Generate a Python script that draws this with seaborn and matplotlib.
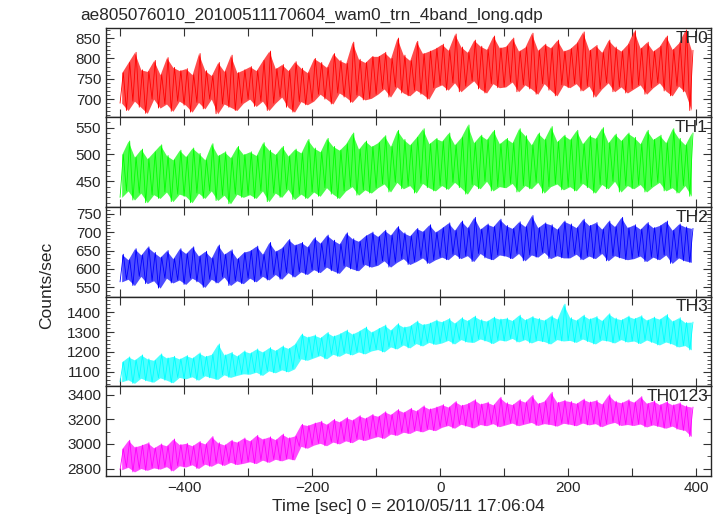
import numpy as np
import pandas as pd
import matplotlib.pyplot as plt
import seaborn as sns
from matplotlib.ticker import MultipleLocator, FuncFormatter

# 10-sec bins, low and high excursion of the light curve
bin_start = np.arange(-500, 400, 10)

th0_hi = [765, 790, 815, 772, 768, 795, 760, 802, 778, 770,
          775, 760, 812, 770, 758, 790, 768, 808, 765, 772,
          780, 770, 795, 818, 775, 785, 770, 792, 776, 765,
          800, 790, 778, 812, 795, 788, 840, 798, 790, 805,
          805, 815, 800, 850, 808, 795, 842, 812, 818, 825,
          835, 820, 860, 828, 815, 845, 830, 822, 855, 826,
          830, 850, 818, 828, 862, 820, 835, 826, 845, 818,
          824, 838, 865, 820, 832, 815, 845, 828, 818, 835,
          868, 825, 840, 818, 830, 855, 822, 838, 870, 820]
th0_lo = [690, 672, 695, 680, 665, 700, 678, 688, 670, 695,
          685, 668, 692, 676, 700, 664, 688, 680, 672, 690,
          700, 682, 695, 672, 690, 705, 680, 668, 694, 686,
          695, 712, 700, 688, 715, 705, 692, 710, 698, 702,
          712, 725, 705, 730, 715, 708, 722, 712, 700, 728,
          735, 722, 740, 718, 732, 745, 725, 715, 738, 728,
          730, 742, 718, 735, 725, 712, 738, 722, 708, 735,
          728, 738, 720, 732, 705, 725, 740, 718, 730, 715,
          725, 735, 712, 728, 740, 720, 708, 732, 718, 672]

th1_hi = [500, 525, 495, 510, 492, 505, 518, 498, 490, 508,
          496, 512, 502, 490, 520, 498, 505, 494, 515, 500,
          505, 498, 522, 508, 500, 515, 497, 510, 503, 528,
          512, 505, 530, 515, 508, 520, 540, 510, 525, 515,
          522, 535, 515, 545, 528, 518, 532, 548, 520, 530,
          525, 540, 518, 532, 555, 522, 536, 528, 545, 520,
          530, 522, 548, 535, 518, 540, 528, 552, 524, 536,
          528, 545, 520, 535, 530, 550, 522, 538, 526, 540,
          532, 520, 545, 528, 536, 522, 548, 530, 518, 540]
th1_lo = [420, 432, 415, 428, 410, 425, 418, 430, 412, 426,
          422, 410, 428, 418, 432, 414, 424, 408, 426, 420,
          425, 418, 432, 412, 428, 420, 435, 416, 426, 418,
          430, 422, 438, 426, 418, 432, 440, 424, 434, 428,
          438, 445, 430, 448, 436, 442, 428, 446, 438, 432,
          442, 435, 448, 438, 426, 444, 436, 450, 432, 440,
          438, 446, 430, 442, 436, 448, 428, 440, 445, 434,
          440, 432, 446, 438, 428, 444, 436, 450, 430, 442,
          436, 444, 430, 440, 448, 432, 438, 428, 442, 422]

th2_hi = [640, 625, 655, 638, 660, 645, 632, 650, 628, 655,
          642, 660, 635, 648, 630, 665, 640, 652, 628, 645,
          650, 662, 640, 672, 648, 658, 680, 665, 672, 660,
          685, 670, 692, 678, 668, 698, 682, 675, 690, 700,
          688, 705, 692, 715, 698, 690, 710, 702, 720, 700,
          712, 725, 705, 730, 712, 740, 708, 722, 715, 735,
          718, 710, 728, 715, 745, 712, 725, 720, 708, 730,
          722, 712, 735, 718, 726, 708, 730, 715, 740, 712,
          720, 708, 726, 712, 718, 730, 705, 722, 714, 710]
th2_lo = [565, 572, 555, 580, 560, 568, 548, 575, 562, 570,
          558, 575, 565, 550, 572, 562, 578, 555, 568, 560,
          575, 565, 580, 570, 585, 572, 590, 578, 592, 585,
          598, 590, 605, 595, 588, 608, 600, 595, 612, 605,
          610, 622, 605, 618, 628, 612, 620, 630, 615, 625,
          632, 625, 640, 628, 636, 620, 642, 630, 625, 638,
          635, 628, 642, 622, 638, 632, 645, 628, 636, 630,
          630, 640, 625, 635, 628, 642, 622, 636, 630, 625,
          628, 635, 620, 632, 625, 638, 615, 630, 622, 618]

th3_hi = [1150, 1175, 1160, 1185, 1165, 1158, 1190, 1170, 1178, 1165,
          1182, 1170, 1195, 1178, 1188, 1240, 1185, 1198, 1180, 1205,
          1195, 1215, 1200, 1222, 1208, 1230, 1218, 1240, 1290, 1275,
          1285, 1272, 1298, 1280, 1292, 1310, 1290, 1305, 1325, 1300,
          1318, 1335, 1310, 1342, 1325, 1332, 1355, 1338, 1345, 1360,
          1352, 1368, 1345, 1372, 1358, 1380, 1362, 1355, 1375, 1365,
          1370, 1358, 1385, 1362, 1378, 1368, 1360, 1382, 1365, 1440,
          1372, 1360, 1385, 1366, 1378, 1358, 1392, 1370, 1362, 1380,
          1368, 1382, 1360, 1375, 1365, 1388, 1355, 1372, 1348, 1350]
th3_lo = [1050, 1060, 1042, 1068, 1055, 1048, 1070, 1058, 1045, 1072,
          1065, 1075, 1058, 1080, 1070, 1062, 1085, 1072, 1082, 1090,
          1088, 1098, 1082, 1105, 1095, 1110, 1100, 1115, 1165, 1158,
          1170, 1182, 1165, 1188, 1178, 1195, 1185, 1200, 1190, 1205,
          1212, 1200, 1225, 1215, 1235, 1220, 1242, 1230, 1248, 1238,
          1245, 1258, 1240, 1262, 1250, 1248, 1265, 1255, 1242, 1260,
          1255, 1268, 1250, 1262, 1245, 1258, 1252, 1240, 1262, 1255,
          1258, 1248, 1265, 1252, 1240, 1260, 1255, 1245, 1262, 1250,
          1255, 1242, 1260, 1248, 1235, 1250, 1240, 1225, 1232, 1210]

th0123_hi = [2960, 3030, 2975, 2990, 3010, 2968, 3000, 2985, 3040, 2995,
             3005, 2985, 3020, 3000, 3060, 3010, 2992, 3030, 3015, 3048,
             3025, 3070, 3040, 3058, 3035, 3080, 3050, 3065, 3160, 3150,
             3170, 3185, 3160, 3200, 3180, 3215, 3195, 3230, 3210, 3240,
             3225, 3262, 3240, 3280, 3258, 3290, 3270, 3310, 3285, 3300,
             3320, 3300, 3345, 3315, 3330, 3360, 3325, 3340, 3318, 3380,
             3335, 3320, 3360, 3340, 3395, 3330, 3350, 3420, 3338, 3355,
             3345, 3330, 3365, 3342, 3355, 3325, 3400, 3348, 3335, 3360,
             3340, 3385, 3330, 3350, 3320, 3345, 3318, 3335, 3310, 3300]
th0123_lo = [2790, 2810, 2772, 2800, 2785, 2805, 2795, 2815, 2780, 2822,
             2812, 2830, 2800, 2835, 2818, 2845, 2825, 2850, 2832, 2842,
             2855, 2840, 2868, 2850, 2875, 2862, 2880, 2870, 2980, 2965,
             2990, 3005, 2985, 3015, 3000, 3025, 3010, 3040, 3028, 3045,
             3060, 3045, 3080, 3070, 3095, 3085, 3110, 3098, 3120, 3108,
             3135, 3150, 3128, 3160, 3145, 3130, 3158, 3148, 3165, 3140,
             3155, 3170, 3148, 3162, 3175, 3150, 3165, 3158, 3145, 3168,
             3160, 3148, 3170, 3155, 3165, 3140, 3162, 3175, 3150, 3158,
             3150, 3162, 3138, 3155, 3142, 3128, 3145, 3120, 3110, 3060]

bands = ['TH0', 'TH1', 'TH2', 'TH3', 'TH0123']
highs = [th0_hi, th1_hi, th2_hi, th3_hi, th0123_hi]
lows = [th0_lo, th1_lo, th2_lo, th3_lo, th0123_lo]
colors = ['#ff0000', '#00ff00', '#0000ff', '#00ffff', '#ff00ff']
ylims = [(655, 875), (402, 569), (525, 768), (1028, 1478), (2741, 3470)]
ymajor = [50, 50, 50, 100, 200]
yminor = [10, 10, 10, 20, 100]

sns.set_style('ticks')
plt.rcParams['font.family'] = ['Liberation Sans', 'DejaVu Sans']

fig, axes = plt.subplots(5, 1, figsize=(7.21, 5.16), dpi=100, sharex=True)
fig.subplots_adjust(left=0.147, right=0.986, top=0.946, bottom=0.078, hspace=0)

for ax, name, hi, lo, col, yl, ma, mi in zip(axes, bands, highs, lows, colors,
                                             ylims, ymajor, yminor):
    # each bin drawn as a low then high sample, 5 s apart
    t = np.column_stack([bin_start, bin_start + 5]).ravel()
    rate = np.column_stack([lo, hi]).ravel()
    df = pd.DataFrame({'time': t, 'rate': rate})
    # band between low and high, like the error bars of the original
    ax.fill_between(bin_start + 2.5, lo, hi, color=col, alpha=0.7, lw=0)
    sns.lineplot(data=df, x='time', y='rate', ax=ax, color=col, lw=0.6,
                 estimator=None, sort=False)
    ax.set_xlim(-522, 423)
    ax.set_ylim(*yl)
    ax.set_xlabel('')
    ax.set_ylabel('')
    ax.xaxis.set_major_locator(MultipleLocator(200))
    ax.xaxis.set_minor_locator(MultipleLocator(100))
    ax.yaxis.set_major_locator(MultipleLocator(ma))
    ax.yaxis.set_minor_locator(MultipleLocator(mi))
    ax.tick_params(which='both', direction='in', top=True, right=True,
                   labelsize=11, color='#333333')
    ax.tick_params(which='major', length=6, width=0.8)
    ax.tick_params(which='minor', length=3, width=0.6)
    ax.tick_params(axis='x', which='minor', length=6, width=0.8)
    for s in ax.spines.values():
        s.set_linewidth(1.0)
    ax.text(0.995, 0.97, name, transform=ax.transAxes, ha='right', va='top',
            fontsize=12.5)

axes[-1].xaxis.set_major_formatter(FuncFormatter(lambda v, p: f'{v:.0f}'.replace('-', '\u2212')))

fig.text(80 / 721, 1 - 15 / 516, 'ae805076010_20100511170604_wam0_trn_4band_long.qdp',
         ha='left', va='center', fontsize=12.3)
fig.text(47 / 721, 1 - 285 / 516, 'Counts/sec', rotation=90, ha='center',
         va='center', fontsize=12.5)
fig.text(0.566, 1 - 507 / 516, 'Time [sec] 0 = 2010/05/11 17:06:04',
         ha='center', va='center', fontsize=12.5)

plt.savefig('out.png', dpi=100)
